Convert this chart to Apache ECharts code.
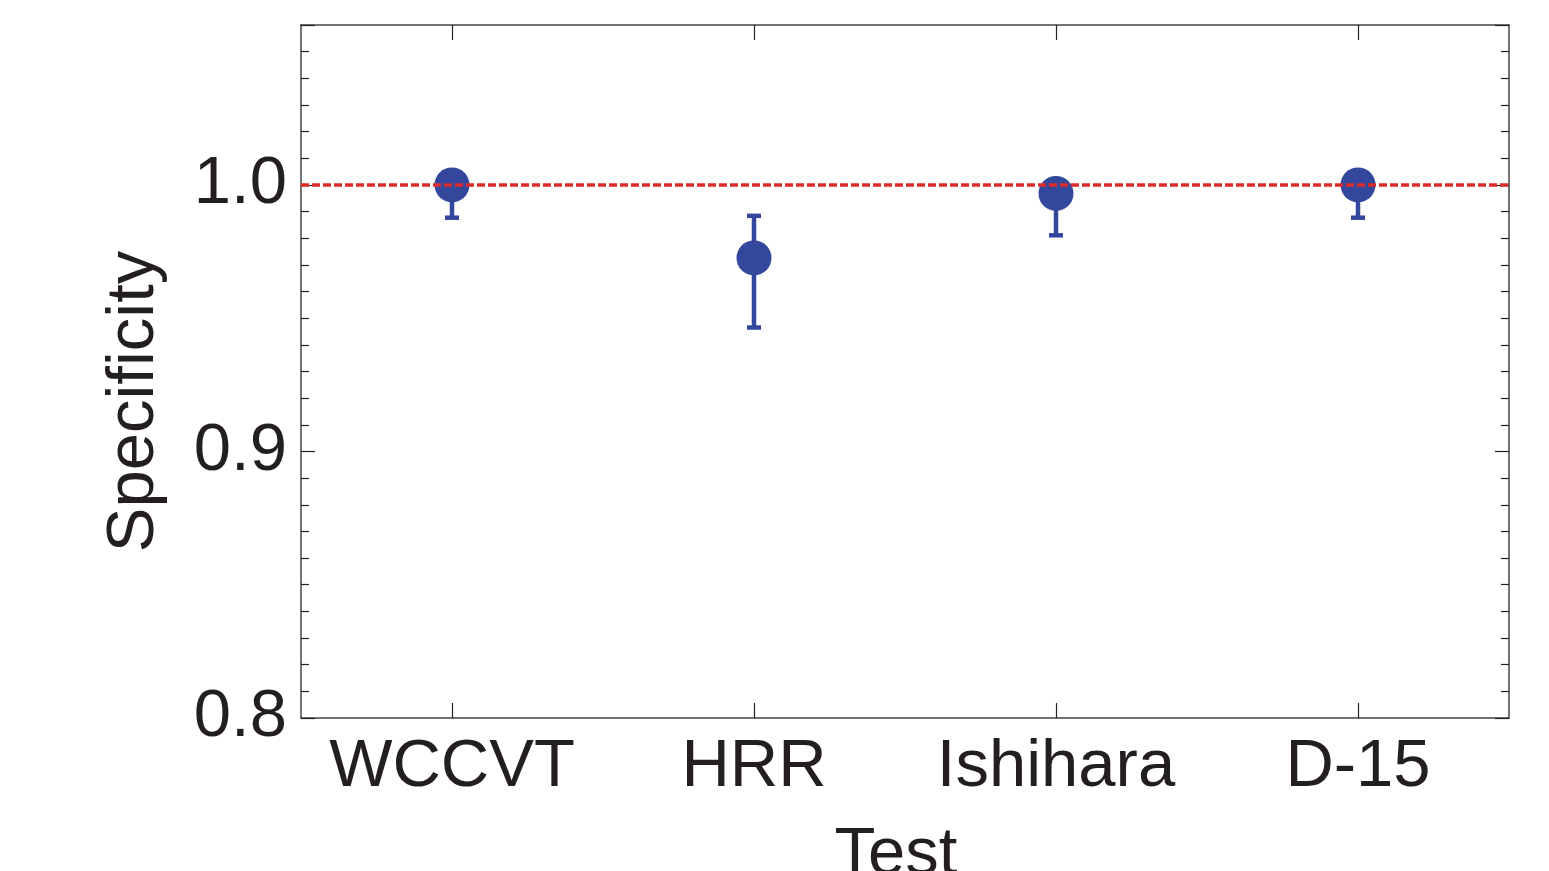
<!DOCTYPE html>
<html>
<head>
<meta charset="utf-8">
<script src="https://cdn.jsdelivr.net/npm/echarts@6/dist/echarts.min.js"></script>
<style>
  html, body { margin: 0; padding: 0; background: #fff; }
  #chartPanel { width: 1549px; height: 871px; }
</style>
</head>
<body>
<div id="chartPanel"></div>
<script>
// data
var tests = ['WCCVT', 'HRR', 'Ishihara', 'D-15'];
var specificity = [1.0, 0.9726, 0.9968, 1.0];
var lowerCI = [0.9877, 0.9465, 0.9811, 0.9877];
var upperCI = [1.0, 0.9884, 1.0, 1.0];
var referenceLine = 1.0;

var pointColor = '#33479c';
var textColor = '#231f20';
var font = 'Liberation Sans, Arial, sans-serif';

var chartPanel = echarts.init(document.getElementById('chartPanel'));

var errData = [];
tests.forEach(function (t, i) {
  errData.push([i, lowerCI[i], upperCI[i]]);
});

function renderErrorBar(params, api) {
  var x = api.value(0);
  var lo = api.coord([x, api.value(1)]);
  var hi = api.coord([x, api.value(2)]);
  var cap = 7;
  var style = { stroke: pointColor, lineWidth: 4.5 };
  return {
    type: 'group',
    children: [
      { type: 'line', shape: { x1: lo[0], y1: lo[1], x2: hi[0], y2: hi[1] }, style: style },
      { type: 'line', shape: { x1: lo[0] - cap, y1: lo[1], x2: lo[0] + cap, y2: lo[1] }, style: style },
      { type: 'line', shape: { x1: hi[0] - cap, y1: hi[1], x2: hi[0] + cap, y2: hi[1] }, style: style }
    ]
  };
}

var axisLine = { show: true, onZero: false, lineStyle: { color: '#444', width: 1.5 } };

function yAxisOf(pos, showLabels) {
  return {
    type: 'value',
    position: pos,
    min: 0.8,
    max: 1.06,
    interval: 0.1,
    axisLine: axisLine,
    axisTick: { show: true, inside: true, length: 14, lineStyle: { color: '#222', width: 1.2 } },
    minorTick: { show: true, splitNumber: 10, length: 8, lineStyle: { color: '#222', width: 1.2 } },
    splitLine: { show: false },
    axisLabel: {
      show: showLabels,
      showMaxLabel: false,
      margin: 14,
      color: textColor,
      fontFamily: font,
      fontSize: 67,
      formatter: function (v) { return v.toFixed(1); }
    },
    name: showLabels ? 'Specificity' : '',
    nameLocation: 'middle',
    nameRotate: 90,
    nameGap: 133,
    nameTextStyle: { color: textColor, fontFamily: font, fontSize: 67, padding: [0, 60, 0, 0] }
  };
}

function xAxisOf(pos, showLabels) {
  return {
    type: 'category',
    position: pos,
    data: tests,
    boundaryGap: true,
    axisLine: axisLine,
    axisTick: { show: true, inside: true, alignWithLabel: true, length: 15, lineStyle: { color: '#222', width: 1.2 } },
    splitLine: { show: false },
    axisLabel: {
      show: showLabels,
      interval: 0,
      margin: 16,
      color: textColor,
      fontFamily: font,
      fontSize: 67
    },
    name: showLabels ? 'Test' : '',
    nameLocation: 'middle',
    nameGap: 104,
    nameTextStyle: { color: textColor, fontFamily: font, fontSize: 67, padding: [0, 18, 0, 0] }
  };
}

var option = {
  animation: false,
  backgroundColor: '#fff',
  grid: { left: 301, right: 40, top: 25, bottom: 153, containLabel: false, outerBoundsMode: 'none' },
  xAxis: [xAxisOf('bottom', true), xAxisOf('top', false)],
  yAxis: [yAxisOf('left', true), yAxisOf('right', false)],
  series: [
    {
      name: 'CI',
      type: 'custom',
      renderItem: renderErrorBar,
      data: errData,
      encode: { x: 0, y: [1, 2] },
      z: 2
    },
    {
      name: 'Specificity',
      type: 'scatter',
      data: specificity,
      symbol: 'circle',
      symbolSize: 35,
      itemStyle: { color: pointColor, opacity: 1 },
      z: 3,
      markLine: {
        silent: true,
        symbol: 'none',
        z: 10,
        label: { show: false },
        lineStyle: { color: '#dc2b2b', width: 3.5, type: [8, 3] },
        data: [{ yAxis: referenceLine }]
      }
    }
  ]
};

chartPanel.setOption(option);
</script>
</body>
</html>
